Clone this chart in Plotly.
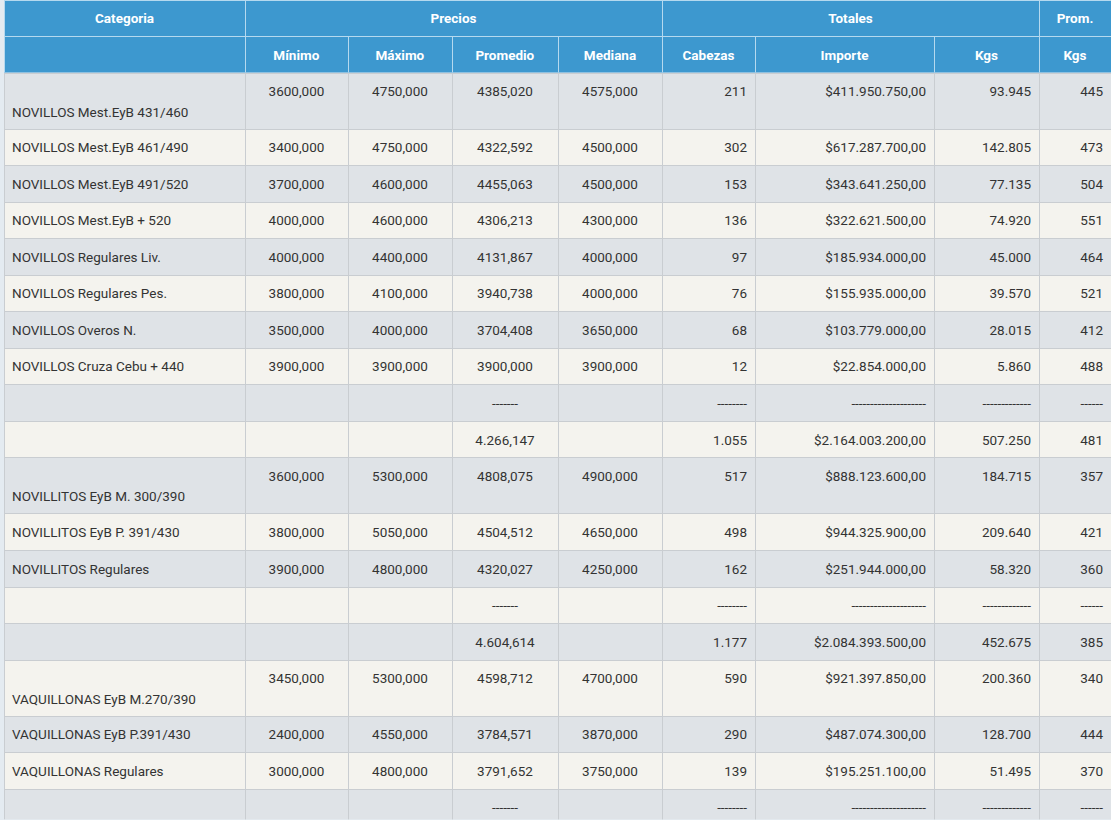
import plotly.graph_objects as go

W, H = 1111, 820

group_headers = ["Categoria", "Precios", "Totales", "Prom."]
sub_headers = ["", "Mínimo", "Máximo", "Promedio", "Mediana", "Cabezas", "Importe", "Kgs", "Kgs"]

categoria = [
    "&nbsp;<br>NOVILLOS Mest.EyB 431/460", "NOVILLOS Mest.EyB 461/490", "NOVILLOS Mest.EyB 491/520",
    "NOVILLOS Mest.EyB + 520", "NOVILLOS Regulares Liv.", "NOVILLOS Regulares Pes.",
    "NOVILLOS Overos N.", "NOVILLOS Cruza Cebu + 440", "", "",
    "&nbsp;<br>NOVILLITOS EyB M. 300/390", "NOVILLITOS EyB P. 391/430", "NOVILLITOS Regulares", "", "",
    "&nbsp;<br>VAQUILLONAS EyB M.270/390", "VAQUILLONAS EyB P.391/430", "VAQUILLONAS Regulares", "",
]
minimo = ["3600,000", "3400,000", "3700,000", "4000,000", "4000,000", "3800,000", "3500,000", "3900,000", "", "",
          "3600,000", "3800,000", "3900,000", "", "",
          "3450,000", "2400,000", "3000,000", ""]
maximo = ["4750,000", "4750,000", "4600,000", "4600,000", "4400,000", "4100,000", "4000,000", "3900,000", "", "",
          "5300,000", "5050,000", "4800,000", "", "",
          "5300,000", "4550,000", "4800,000", ""]
promedio = ["4385,020", "4322,592", "4455,063", "4306,213", "4131,867", "3940,738", "3704,408", "3900,000", "-------", "4.266,147",
            "4808,075", "4504,512", "4320,027", "-------", "4.604,614",
            "4598,712", "3784,571", "3791,652", "-------"]
mediana = ["4575,000", "4500,000", "4500,000", "4300,000", "4000,000", "4000,000", "3650,000", "3900,000", "", "",
           "4900,000", "4650,000", "4250,000", "", "",
           "4700,000", "3870,000", "3750,000", ""]
cabezas = ["211", "302", "153", "136", "97", "76", "68", "12", "--------", "1.055",
           "517", "498", "162", "--------", "1.177",
           "590", "290", "139", "--------"]
importe = ["$411.950.750,00", "$617.287.700,00", "$343.641.250,00", "$322.621.500,00", "$185.934.000,00",
           "$155.935.000,00", "$103.779.000,00", "$22.854.000,00", "--------------------", "$2.164.003.200,00",
           "$888.123.600,00", "$944.325.900,00", "$251.944.000,00", "--------------------", "$2.084.393.500,00",
           "$921.397.850,00", "$487.074.300,00", "$195.251.100,00", "--------------------"]
kgs = ["93.945", "142.805", "77.135", "74.920", "45.000", "39.570", "28.015", "5.860", "-------------", "507.250",
       "184.715", "209.640", "58.320", "-------------", "452.675",
       "200.360", "128.700", "51.495", "-------------"]
prom_kgs = ["445", "473", "504", "551", "464", "521", "412", "488", "------", "481",
            "357", "421", "360", "------", "385",
            "340", "444", "370", "------"]

columns = [categoria, minimo, maximo, promedio, mediana, cabezas, importe, kgs, prom_kgs]
col_widths = [241, 103, 104, 106, 104, 93, 179, 105, 72]
group_widths = [241, 417, 377, 72]

HEADER_BLUE = "#3d98cf"
HEADER_LINE = "#b5d9ef"
ROW_A = "#dfe3e7"
ROW_B = "#f4f3ee"
CELL_LINE = "#c9cdd1"
TEXT = "#333333"
FONT = "Roboto"
FS = 13.5

n = len(categoria)
row_fill = [ROW_A if i % 2 == 0 else ROW_B for i in range(n)]
tall = [c.startswith("&nbsp;<br>") for c in categoria]
ROW_H, TALL_H, HDR_H = 36.55, 56.0, 36.5
aligns = ["left", "center", "center", "center", "center", "right", "right", "right", "right"]

x0 = 4 / W
fig = go.Figure()


def frac(px):
    return max(0.0, min(1.0, 1 - px / H))


# top grouped header
fig.add_trace(go.Table(
    domain=dict(x=[x0, 1], y=[frac(HDR_H), 1]),
    columnwidth=group_widths,
    header=dict(
        values=[f"<b>{h}</b>" for h in group_headers],
        fill_color=HEADER_BLUE, line=dict(color=HEADER_LINE, width=1),
        font=dict(family=FONT, size=FS, color="white"),
        align="center", height=HDR_H,
    ),
    cells=dict(values=[[] for _ in group_headers]),
))
# sub header
fig.add_trace(go.Table(
    domain=dict(x=[x0, 1], y=[frac(2 * HDR_H), frac(HDR_H)]),
    columnwidth=col_widths,
    header=dict(
        values=[f"<b>{h}</b>" if h else "" for h in sub_headers],
        fill_color=HEADER_BLUE, line=dict(color=HEADER_LINE, width=1),
        font=dict(family=FONT, size=FS, color="white"),
        align="center", height=HDR_H,
    ),
    cells=dict(values=[[] for _ in sub_headers]),
))

# body split into runs of equal row height; first row of each run drawn as the
# (body-styled) header row of that run
segments = []
start = 0
for i in range(1, n + 1):
    if i == n or tall[i] != tall[start]:
        segments.append((start, i))
        start = i

top = 2 * HDR_H
for a, b in segments:
    h = TALL_H if tall[a] else ROW_H
    bottom = top + h * (b - a)
    fig.add_trace(go.Table(
        domain=dict(x=[x0, 1], y=[frac(bottom), frac(top)]),
        columnwidth=col_widths,
        header=dict(
            values=[col[a] for col in columns],
            fill_color=row_fill[a],
            line=dict(color=CELL_LINE, width=1),
            font=dict(family=FONT, size=FS, color=TEXT),
            align=aligns,
            height=h,
        ),
        cells=dict(
            values=[col[a + 1:b] for col in columns],
            fill_color=[row_fill[a + 1:b]] * len(columns),
            line=dict(color=CELL_LINE, width=1),
            font=dict(family=FONT, size=FS, color=TEXT),
            align=aligns,
            height=h,
        ),
    ))
    top = bottom

fig.update_layout(
    width=W, height=H,
    margin=dict(l=0, r=0, t=0, b=0),
    paper_bgcolor="#e4ebf1",
)

post = (
    "document.body.style.margin='0';"
    "var s=document.createElement('style');"
    "s.textContent='text.cell-text{translate:0 5px;} "
    "text.cell-text[style*=\"fill: rgb(255, 255, 255)\"]{translate:0 2px;}';"
    "document.head.appendChild(s);"
)
fig.write_html("out.html", post_script=post, config={"displayModeBar": False})
